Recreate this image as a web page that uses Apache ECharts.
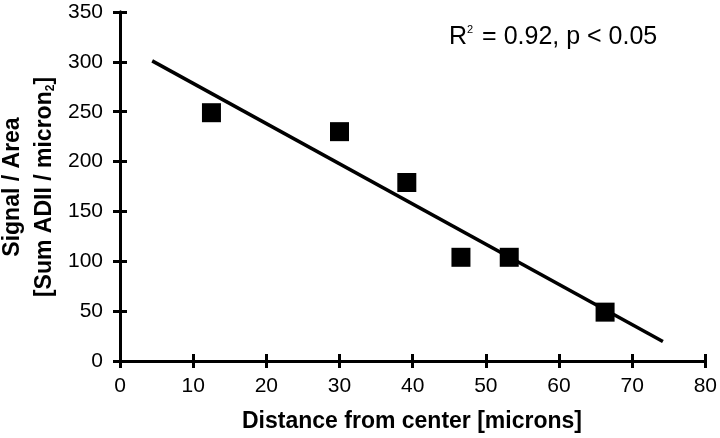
<!DOCTYPE html>
<html>
<head>
<meta charset="utf-8">
<script src="https://cdn.jsdelivr.net/npm/echarts@6/dist/echarts.min.js"></script>
<style>html,body{margin:0;padding:0;background:#fff}#c{width:720px;height:438px}</style>
</head>
<body>
<div id="c"></div>
<script>
// Data
var distance = [12.5, 30.0, 39.2, 46.6, 53.2, 66.3];
var signal   = [249, 230, 179, 104, 104, 49];
var fitX = [4.4, 74.2];
var fitY = [301, 19.5];
var xTicks = [0, 10, 20, 30, 40, 50, 60, 70, 80];
var yTicks = [0, 50, 100, 150, 200, 250, 300, 350];
var annotation = 'R{sup|2} = 0.92, p < 0.05';
var xTitle = 'Distance from center [microns]';
var yTitle1 = 'Signal / Area';
var yTitle2 = '[Sum ADII / micron{sub|2}]';

var FONT = 'Liberation Sans, Arial, Helvetica, sans-serif';
var chart = echarts.init(document.getElementById('c'), null, {renderer: 'canvas'});

function axisBase(inside, showLabel) {
  return {
    axisLine: {show: true, lineStyle: {color: '#000', width: 3}},
    axisTick: {show: true, inside: inside, length: 7, lineStyle: {color: '#000', width: 3}},
    axisLabel: {show: showLabel, color: '#000', fontFamily: FONT, fontSize: 21},
    splitLine: {show: false}
  };
}

var xMin = xTicks[0], xMax = xTicks[xTicks.length - 1];
var yMin = yTicks[0], yMax = yTicks[yTicks.length - 1];

var xa1 = Object.assign(axisBase(false, true), {type: 'value', min: xMin, max: xMax, interval: xTicks[1] - xTicks[0], position: 'bottom'});
xa1.axisLabel.margin = 15;
var xa2 = Object.assign(axisBase(true, false), {type: 'value', min: xMin, max: xMax, interval: xTicks[1] - xTicks[0], position: 'bottom'});
var ya1 = Object.assign(axisBase(false, true), {type: 'value', min: yMin, max: yMax, interval: yTicks[1] - yTicks[0], position: 'left'});
ya1.axisLabel.margin = 17;
var ya2 = Object.assign(axisBase(true, false), {type: 'value', min: yMin, max: yMax, interval: yTicks[1] - yTicks[0], position: 'left'});

var option = {
  backgroundColor: '#fff',
  animation: false,
  grid: {left: 120, right: 14, top: 12, bottom: 77, containLabel: false},
  xAxis: [xa1, xa2],
  yAxis: [ya1, ya2],
  series: [
    {
      type: 'line',
      xAxisIndex: 0, yAxisIndex: 0,
      data: fitX.map(function (x, i) { return [x, fitY[i]]; }),
      showSymbol: false, symbol: 'none',
      lineStyle: {color: '#000', width: 3.5},
      z: 2
    },
    {
      type: 'scatter',
      xAxisIndex: 0, yAxisIndex: 0,
      data: distance.map(function (x, i) { return [x, signal[i]]; }),
      symbol: 'rect', symbolSize: 19,
      itemStyle: {color: '#000', opacity: 1},
      z: 3
    }
  ],
  graphic: [
    {
      type: 'text', x: 449, y: 37,
      style: {
        text: annotation, fill: '#000', font: '25px ' + FONT, verticalAlign: 'middle',
        rich: {sup: {fontSize: 11, fontFamily: FONT, verticalAlign: 'top', padding: [0, 2, 14, 0], fill: '#000'}}
      }
    },
    {
      type: 'text', x: 412, y: 422,
      style: {text: xTitle, fill: '#000', font: 'bold 23px ' + FONT, align: 'center', verticalAlign: 'middle'}
    },
    {
      type: 'text', x: 13, y: 187, rotation: Math.PI / 2,
      style: {text: yTitle1, fill: '#000', font: 'bold 23px ' + FONT, align: 'center', verticalAlign: 'middle'}
    },
    {
      type: 'text', x: 45, y: 187, rotation: Math.PI / 2,
      style: {
        text: yTitle2, fill: '#000', font: 'bold 23px ' + FONT, align: 'center', verticalAlign: 'middle',
        rich: {sub: {fontSize: 12, fontWeight: 'bold', fontFamily: FONT, verticalAlign: 'bottom', fill: '#000'}}
      }
    }
  ]
};
chart.setOption(option);
</script>
</body>
</html>
